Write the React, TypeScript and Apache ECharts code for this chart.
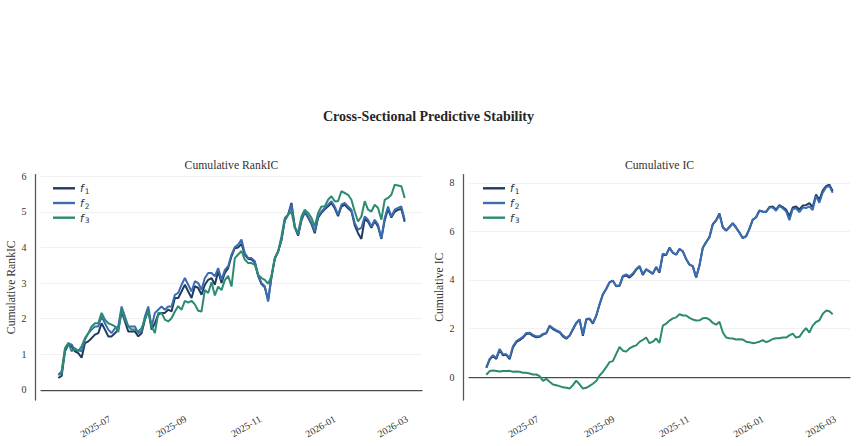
import React, { useEffect, useRef } from "react";
import * as echarts from "echarts";

// Factor names and line colours
const FACTORS = ["f1", "f2", "f3"];
const COLORS = ["#1f3a5f", "#3b6cb0", "#2d8a72"];

// Sampling window (every other trading session)
const FIRST_DAY = "2025-05-20";
const LAST_DAY = "2026-02-27";
const MONTH_TICKS = ["2025-07-01", "2025-09-01", "2025-11-01", "2026-01-01", "2026-03-01"];
const RANK_IC_TICKS = [0, 1, 2, 3, 4, 5, 6];
const IC_TICKS = [0, 2, 4, 6, 8];

// Cumulative RankIC
const rankIcF1 = [
  0.33, 0.39, 1.08, 1.27, 1.22, 1.08, 1.03, 0.9, 1.31, 1.36,
  1.45, 1.55, 1.59, 1.87, 1.69, 1.5, 1.5, 1.59, 1.69, 2.2,
  1.92, 1.64, 1.64, 1.64, 1.5, 1.59, 1.97, 2.25, 1.69, 1.87,
  2.11, 2.16, 2.16, 2.25, 2.2, 2.58, 2.58, 2.76, 2.95, 2.76,
  2.58, 2.91, 2.86, 2.67, 2.95, 3.09, 3.14, 2.95, 3.33, 3.0,
  3.28, 3.42, 3.75, 3.98, 4.0, 4.1, 3.8, 3.68, 3.66, 3.58,
  3.2, 2.97, 2.88, 2.52, 3.16, 3.68, 3.88, 4.2, 4.76, 4.92,
  5.25, 4.57, 4.33, 4.76, 4.99, 4.84, 4.66, 4.4, 4.84, 4.97,
  5.07, 5.16, 5.25, 5.1, 4.88, 5.15, 5.2, 5.1, 5.02, 4.62,
  4.4, 4.24, 4.8, 4.72, 4.55, 4.74, 4.58, 4.24, 4.76, 5.08,
  4.84, 5.0, 5.06, 5.08, 4.72,
];
const rankIcF2 = [
  0.42, 0.45, 1.12, 1.31, 1.27, 1.12, 1.12, 1.08, 1.41, 1.59,
  1.69, 1.78, 1.78, 2.06, 1.87, 1.69, 1.59, 1.73, 1.78, 2.34,
  2.06, 1.78, 1.78, 1.78, 1.59, 1.64, 2.06, 2.34, 1.78, 2.16,
  2.25, 2.34, 2.25, 2.34, 2.34, 2.67, 2.72, 2.95, 3.14, 2.95,
  2.76, 3.05, 3.0, 2.81, 3.14, 3.28, 3.28, 3.19, 3.42, 3.09,
  3.37, 3.47, 3.8, 4.01, 4.08, 4.22, 3.84, 3.7, 3.7, 3.61,
  3.23, 3.0, 2.91, 2.48, 3.19, 3.7, 3.89, 4.22, 4.78, 4.92,
  5.2, 4.59, 4.35, 4.78, 5.01, 4.87, 4.69, 4.45, 4.87, 5.01,
  5.11, 5.2, 5.3, 5.15, 4.92, 5.2, 5.25, 5.15, 5.06, 4.69,
  4.5, 4.55, 4.87, 4.78, 4.59, 4.78, 4.64, 4.26, 4.83, 5.15,
  4.87, 5.06, 5.11, 5.15, 4.78,
];
const rankIcF3 = [
  0.42, 0.52, 1.17, 1.31, 1.08, 1.17, 1.08, 1.22, 1.45, 1.59,
  1.78, 1.87, 1.87, 2.16, 1.97, 1.87, 1.83, 1.78, 1.62, 2.25,
  1.97, 1.78, 1.69, 1.69, 1.64, 1.73, 1.97, 2.2, 1.78, 1.59,
  2.16, 2.16, 1.97, 1.92, 2.01, 2.2, 2.35, 2.25, 2.5, 2.45,
  2.5, 2.4, 2.22, 2.2, 2.8, 2.72, 3.02, 2.65, 2.9, 2.8,
  3.08, 3.2, 2.9, 3.7, 3.8, 3.9, 3.66, 3.56, 3.56, 3.51,
  3.23, 3.14, 3.09, 2.98, 3.19, 3.7, 3.89, 4.31, 4.83, 4.92,
  5.01, 4.55, 4.42, 4.87, 5.06, 4.97, 4.83, 4.59, 4.97, 5.15,
  5.15, 5.34, 5.44, 5.3, 5.3, 5.58, 5.53, 5.48, 5.34, 5.01,
  4.73, 4.87, 5.3, 5.06, 5.01, 5.2, 5.11, 4.78, 5.34, 5.39,
  5.48, 5.76, 5.74, 5.72, 5.39,
];

// Cumulative IC
const icF1 = [
  0.38, 0.72, 0.88, 0.75, 1.12, 0.9, 0.92, 0.74, 1.22, 1.44,
  1.52, 1.62, 1.78, 1.8, 1.7, 1.64, 1.66, 1.75, 1.8, 2.1,
  1.98, 1.9, 1.84, 1.68, 1.58, 1.7, 1.96, 2.22, 2.36, 1.7,
  2.36, 2.4, 2.2, 2.52, 2.99, 3.4, 3.63, 3.9, 3.97, 3.74,
  3.76, 4.14, 4.18, 4.1, 4.22, 4.42, 4.56, 4.2, 4.43, 4.34,
  4.25, 4.52, 4.3, 5.06, 5.02, 5.33, 5.12, 5.04, 5.27, 5.18,
  4.86, 4.63, 4.56, 4.1, 4.6, 5.33, 5.56, 5.77, 6.3, 6.46,
  6.74, 6.18, 6.04, 6.18, 6.34, 6.16, 5.95, 5.72, 5.8, 6.1,
  6.48, 6.58, 6.86, 6.82, 6.8, 7.0, 7.02, 6.9, 7.08, 7.0,
  6.9, 6.62, 6.98, 7.02, 6.9, 7.06, 7.08, 7.16, 7.0, 7.52,
  7.3, 7.68, 7.86, 7.92, 7.66,
];
const icF2 = [
  0.4, 0.75, 0.9, 0.79, 1.16, 0.94, 0.94, 0.79, 1.27, 1.48,
  1.57, 1.66, 1.82, 1.83, 1.74, 1.68, 1.68, 1.78, 1.82, 2.12,
  2.02, 1.93, 1.87, 1.72, 1.61, 1.72, 1.98, 2.24, 2.38, 1.74,
  2.39, 2.42, 2.23, 2.53, 3.0, 3.41, 3.64, 3.91, 3.97, 3.75,
  3.78, 4.17, 4.23, 4.15, 4.27, 4.45, 4.58, 4.23, 4.45, 4.36,
  4.27, 4.54, 4.34, 5.08, 5.03, 5.31, 5.12, 5.05, 5.27, 5.18,
  4.86, 4.64, 4.57, 4.1, 4.6, 5.32, 5.54, 5.75, 6.28, 6.44,
  6.7, 6.16, 6.02, 6.17, 6.32, 6.14, 5.94, 5.73, 5.79, 6.1,
  6.48, 6.57, 6.85, 6.81, 6.79, 6.98, 6.98, 6.85, 7.05, 6.95,
  6.83, 6.46, 6.92, 6.95, 6.79, 6.98, 6.96, 7.03, 6.88, 7.46,
  7.18, 7.59, 7.81, 7.87, 7.59,
];
const icF3 = [
  0.1, 0.25, 0.27, 0.25, 0.23, 0.25, 0.25, 0.26, 0.22, 0.23,
  0.22, 0.18, 0.18, 0.15, 0.11, 0.11, 0.04, -0.15, -0.07, -0.19,
  -0.3, -0.33, -0.37, -0.42, -0.44, -0.47, -0.33, -0.14, -0.3, -0.47,
  -0.44, -0.36, -0.27, -0.16, 0.07, 0.22, 0.41, 0.62, 0.66, 0.96,
  1.24, 1.09, 1.05, 1.18, 1.26, 1.31, 1.45, 1.53, 1.63, 1.4,
  1.46, 1.59, 1.41, 2.12, 2.2, 2.33, 2.42, 2.46, 2.59, 2.54,
  2.54, 2.44, 2.37, 2.33, 2.34, 2.42, 2.44, 2.37, 2.23, 2.16,
  2.28, 1.85, 1.63, 1.6, 1.59, 1.55, 1.56, 1.55, 1.46, 1.44,
  1.4, 1.42, 1.46, 1.52, 1.44, 1.49, 1.57, 1.6, 1.6, 1.63,
  1.63, 1.72, 1.79, 1.63, 1.66, 1.86, 2.02, 1.83, 2.12, 2.27,
  2.34, 2.6, 2.74, 2.71, 2.59,
];

const SERIF = "'Liberation Serif', 'Times New Roman', serif";
const TEXT = "#333333";
const AXIS = "#555555";

const toTime = (s: string) => {
  const [y, m, d] = s.split("-").map(Number);
  return Date.UTC(y, m - 1, d);
};
const monthLabel = (v: number) => {
  const d = new Date(v);
  return `${d.getUTCFullYear()}-${String(d.getUTCMonth() + 1).padStart(2, "0")}`;
};

export default function App() {
  const ref = useRef<HTMLDivElement>(null);

  useEffect(() => {
    if (!ref.current) return;
    const chart = echarts.init(ref.current, undefined, { renderer: "svg" });

    const t0 = toTime(FIRST_DAY);
    const t1 = toTime(LAST_DAY);
    const n = rankIcF1.length;
    const times = rankIcF1.map((_, i) => t0 + ((t1 - t0) * i) / (n - 1));
    const pad = (t1 - t0) * 0.05;
    const monthTicks = MONTH_TICKS.map(toTime);

    const panels = [
      { name: "Cumulative RankIC", data: [rankIcF1, rankIcF2, rankIcF3], min: -0.288, max: 6.05, ticks: RANK_IC_TICKS, left: 41, legendLeft: 48 },
      { name: "Cumulative IC", data: [icF1, icF2, icF3], min: -0.94, max: 8.34, ticks: IC_TICKS, left: 469, legendLeft: 478 },
    ];
    const top = 174.5;
    const width = 381;
    const height = 225.5;

    const legendRich = {
      f: { fontFamily: "'DejaVu Sans', sans-serif", fontStyle: "italic", fontSize: 10.5, color: TEXT, lineHeight: 14 },
      s: { fontFamily: "'DejaVu Sans', sans-serif", fontSize: 7.5, color: TEXT, lineHeight: 14, verticalAlign: "bottom", padding: [0, 0, 0, 1] },
    };

    const option: any = {
      animation: false,
      backgroundColor: "#ffffff",
      graphic: [
        {
          type: "text", x: 428.5, y: 116,
          style: { text: "Cross-Sectional Predictive Stability", fontFamily: SERIF, fontWeight: "bold", fontSize: 14, fill: "#262626", textAlign: "center", textVerticalAlign: "middle" },
        },
        ...panels.map((p) => ({
          type: "text", x: p.left + width / 2, y: 165,
          style: { text: p.name, fontFamily: SERIF, fontSize: 11.7, fill: TEXT, textAlign: "center", textVerticalAlign: "middle" },
        })),
      ],
      legend: panels.map((p) => ({
        left: p.legendLeft,
        top: 177.8,
        orient: "vertical",
        icon: "rect",
        itemWidth: 22,
        itemHeight: 2.4,
        itemGap: 2.2,
        selectedMode: false,
        data: FACTORS,
        formatter: (name: string) => `{f|f}{s|${name.slice(1)}}`,
        textStyle: { rich: legendRich },
      })),
      grid: panels.map((p) => ({ left: p.left, top, width, height })),
      xAxis: panels.map((_, gi) => ({
        type: "value",
        gridIndex: gi,
        min: t0 - pad,
        max: t1 + pad,
        offset: 6,
        axisLine: { show: true, lineStyle: { color: AXIS, width: 1.25 } },
        axisTick: { show: false, customValues: monthTicks },
        splitLine: { show: false },
        axisLabel: {
          customValues: monthTicks,
          formatter: monthLabel,
          rotate: 30,
          margin: 12,
          fontFamily: SERIF,
          fontSize: 10,
          color: TEXT,
        },
      })),
      yAxis: panels.map((p, gi) => ({
        type: "value",
        gridIndex: gi,
        min: p.min,
        max: p.max,
        offset: 5.5,
        name: p.name,
        nameLocation: "middle",
        nameGap: 17,
        nameTextStyle: { fontFamily: SERIF, fontSize: 11.7, color: TEXT },
        axisLine: { show: true, lineStyle: { color: AXIS, width: 1.25 } },
        axisTick: { show: false, customValues: p.ticks },
        axisLabel: { customValues: p.ticks, margin: 9, fontFamily: SERIF, fontSize: 10, color: TEXT },
        splitLine: { show: true, lineStyle: { color: "#ededed", width: 0.8 } },
      })),
      series: panels.flatMap((p, gi) =>
        p.data.map((vals, k) => ({
          type: "line",
          name: FACTORS[k],
          xAxisIndex: gi,
          yAxisIndex: gi,
          data: vals.map((v, i) => [times[i], v]),
          showSymbol: false,
          symbol: "none",
          color: COLORS[k],
          lineStyle: { color: COLORS[k], width: 2 },
          z: 3 + k,
          silent: true,
          markLine:
            k === 0
              ? {
                  silent: true,
                  symbol: "none",
                  label: { show: false },
                  lineStyle: { color: "#4a4a4a", width: 1.2, type: "solid" },
                  emphasis: { disabled: true },
                  data: [{ yAxis: 0 }],
                }
              : undefined,
        }))
      ),
    };

    chart.setOption(option);
    return () => chart.dispose();
  }, []);

  return (
    <div
      ref={ref}
      style={{ position: "fixed", left: 0, top: 0, width: 857, height: 446, background: "#fff" }}
    />
  );
}
